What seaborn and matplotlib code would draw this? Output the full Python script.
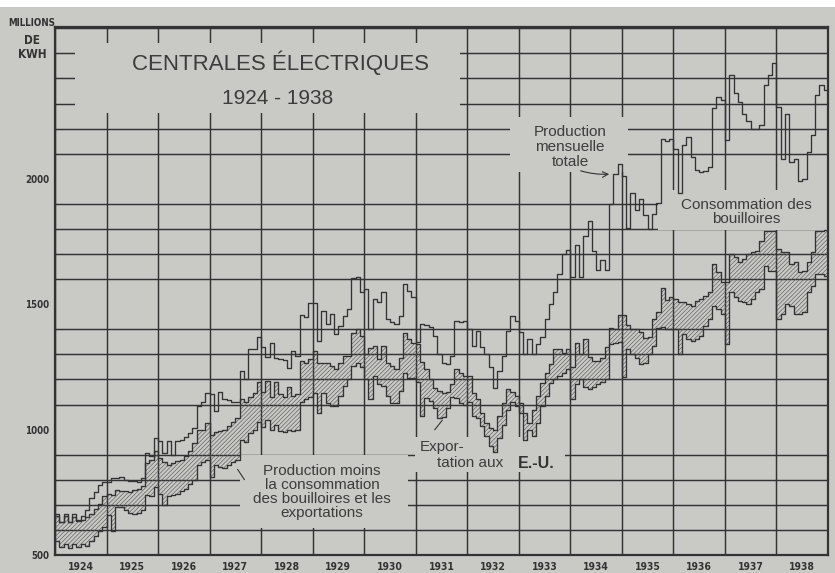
import numpy as np
import pandas as pd
import matplotlib.pyplot as plt
from matplotlib.patches import Rectangle
import seaborn as sns

years = list(range(1924, 1939))

# Production mensuelle totale (millions de kWh), 12 mois par année
total = [
    665, 632, 665, 633, 662, 640, 655, 680, 728, 752, 780, 790,          # 1924
    790, 805, 805, 812, 800, 795, 797, 793, 805, 905, 893, 965,          # 1925
    955, 905, 955, 900, 955, 960, 970, 985, 1005, 1095, 1110, 1145,      # 1926
    1143, 1073, 1150, 1120, 1118, 1110, 1108, 1233, 1200, 1320, 1322, 1370,  # 1927
    1330, 1290, 1347, 1287, 1282, 1278, 1247, 1313, 1295, 1455, 1450, 1505,  # 1928
    1505, 1353, 1473, 1420, 1460, 1380, 1413, 1453, 1480, 1603, 1610, 1547,  # 1929
    1560, 1400, 1520, 1507, 1547, 1440, 1430, 1420, 1453, 1580, 1553, 1527,  # 1930
    1350, 1420, 1415, 1410, 1373, 1300, 1267, 1262, 1293, 1433, 1427, 1433,  # 1931
    1400, 1333, 1393, 1330, 1300, 1250, 1165, 1233, 1293, 1395, 1453, 1433,  # 1932
    1390, 1300, 1360, 1300, 1340, 1370, 1440, 1500, 1550, 1620, 1700, 1715,  # 1933
    1610, 1737, 1610, 1770, 1830, 1710, 1637, 1677, 1637, 1900, 2020, 2060,  # 1934
    2010, 1805, 1943, 1875, 1920, 1855, 1800, 1860, 1905, 2160, 2150, 2160,  # 1935
    2120, 1945, 2135, 2165, 2087, 2035, 2027, 2030, 2047, 2283, 2327, 2313,  # 1936
    2155, 2415, 2340, 2307, 2260, 2230, 2200, 2200, 2215, 2373, 2413, 2460,  # 1937
    2287, 2080, 2260, 2067, 2080, 1990, 2000, 2107, 2173, 2333, 2373, 2353,  # 1938
]

# Production moins la consommation des bouilloires
net_boilers = [
    655, 630, 655, 630, 650, 635, 640, 650, 665, 685, 705, 735,
    745, 740, 760, 755, 755, 750, 760, 765, 775, 867, 880, 913,
    887, 870, 860, 865, 875, 880, 895, 913, 947, 1000, 1000, 1027,
    980, 990, 995, 1000, 1015, 1030, 1047, 1120, 1110, 1130, 1145, 1190,
    1150, 1195, 1130, 1190, 1140, 1130, 1170, 1135, 1140, 1275, 1265, 1280,
    1313, 1267, 1267, 1267, 1255, 1240, 1267, 1293, 1293, 1387, 1400, 1373,
    1300, 1327, 1333, 1280, 1333, 1267, 1253, 1240, 1287, 1387, 1360, 1347,
    1340, 1270, 1240, 1200, 1165, 1155, 1145, 1150, 1180, 1240, 1225, 1215,
    1213, 1147, 1120, 1067, 1027, 1007, 1000, 1053, 1107, 1160, 1150, 1133,
    1107, 1067, 1027, 1080, 1133, 1187, 1227, 1260, 1320, 1320, 1307, 1320,
    1250, 1345, 1300, 1360, 1290, 1275, 1275, 1285, 1330, 1405, 1400, 1455,
    1455, 1417, 1400, 1400, 1390, 1365, 1370, 1440, 1470, 1565, 1515, 1530,
    1520, 1510, 1507, 1500, 1493, 1513, 1520, 1533, 1547, 1660, 1627, 1587,
    1590, 1700, 1687, 1667, 1680, 1700, 1707, 1713, 1753, 1793, 1793, 1793,
    1720, 1707, 1707, 1660, 1667, 1627, 1633, 1667, 1707, 1793, 1793, 1795,
]

# Production moins la consommation des bouilloires et les exportations
net_all = [
    555, 530, 545, 528, 545, 530, 545, 535, 555, 575, 595, 610,
    660, 595, 690, 690, 680, 668, 665, 668, 680, 740, 735, 770,
    745, 700, 735, 740, 745, 755, 765, 785, 800, 860, 870, 880,
    810, 860, 850, 845, 860, 870, 880, 960, 950, 985, 1000, 1030,
    1010, 1040, 1000, 1020, 995, 990, 1000, 995, 1000, 1110, 1120, 1130,
    1147, 1067, 1147, 1107, 1093, 1093, 1133, 1173, 1200, 1253, 1267, 1250,
    1200, 1120, 1213, 1180, 1173, 1133, 1107, 1107, 1153, 1227, 1207, 1207,
    1190, 1055, 1125, 1115, 1085, 1045, 1050, 1085, 1130, 1125, 1105, 1100,
    1110, 1055, 1045, 1015, 975, 935, 910, 965, 1020, 1080, 1110, 1095,
    1067, 960, 1000, 973, 1027, 1093, 1133, 1187, 1200, 1213, 1227, 1240,
    1120, 1180, 1200, 1170, 1160, 1170, 1180, 1190, 1200, 1340, 1345, 1350,
    1210, 1320, 1300, 1285, 1260, 1265, 1300, 1335, 1405, 1410, 1400, 1400,
    1400, 1300, 1380, 1360, 1353, 1360, 1373, 1413, 1440, 1493, 1480, 1460,
    1340, 1547, 1530, 1513, 1507, 1500, 1520, 1547, 1560, 1653, 1633, 1633,
    1440, 1460, 1500, 1493, 1460, 1460, 1467, 1547, 1573, 1620, 1620, 1613,
]

BG = "#c9c9c6"
INK = "#333333"
TXT = "#3c3c3c"

sns.set_style("white", {"axes.facecolor": BG, "figure.facecolor": BG})
plt.rcParams["hatch.linewidth"] = 0.45

# month edges so that each value covers its month as a step
n = len(total)
edges = years[0] + np.arange(n + 1) / 12.0
df = pd.DataFrame({
    "x": edges,
    "total": total + total[-1:],
    "net_boilers": net_boilers + net_boilers[-1:],
    "net_all": net_all + net_all[-1:],
})

fig = plt.figure(figsize=(8.35, 5.73), dpi=100)
ax = fig.add_axes([55 / 835, 18 / 573, 773 / 835, 528 / 573])


def frac(px, py):
    # position measured on the original page -> axes fraction
    return (px - 55) / 773, (555 - py) / 528


# hatched band = exports to the U.S.
ax.fill_between(df["x"], df["net_all"], df["net_boilers"], step="post",
                facecolor="none", edgecolor="#5a5a5a", hatch="////////",
                linewidth=0, zorder=2)

for col in ["total", "net_boilers", "net_all"]:
    sns.lineplot(data=df, x="x", y=col, drawstyle="steps-post", estimator=None,
                 sort=False, color=INK, linewidth=0.95, ax=ax, zorder=3)

ax.set_xlim(years[0], years[-1] + 1)
ax.set_ylim(500, 2605)
ax.set_xticks([y + 0.5 for y in years])
ax.set_xticklabels([str(y) for y in years])
ax.set_xticks(range(years[0], years[-1] + 2), minor=True)
ax.set_yticks([500, 1000, 1500, 2000])
ax.set_yticks(range(500, 2601, 100), minor=True)
ax.grid(which="minor", color=INK, linewidth=1.05)
ax.grid(which="major", visible=False)
ax.set_axisbelow(True)
ax.tick_params(which="both", length=0)
ax.tick_params(axis="x", pad=5)
ax.tick_params(axis="y", pad=4)
for lab in ax.get_xticklabels() + ax.get_yticklabels():
    lab.set_family(["DejaVu Sans"])
    lab.set_fontstretch("condensed")
    lab.set_fontweight("bold")
    lab.set_color(INK)
for lab in ax.get_xticklabels():
    lab.set_fontsize(7.5)
for lab in ax.get_yticklabels():
    lab.set_fontsize(7)
ax.set_xlabel("")
ax.set_ylabel("")
for s in ax.spines.values():
    s.set_color(INK)
    s.set_linewidth(1.6)

# blank areas left behind the labels
blanks = [(75, 43, 460, 113), (510, 117, 628, 172), (658, 190, 832, 230),
          (240, 455, 408, 528), (415, 437, 565, 472)]
for x0, y0, x1, y1 in blanks:
    fx0, fy1 = frac(x0, y1)
    fx1, fy0 = frac(x1, y0)
    ax.add_patch(Rectangle((fx0, fy1), fx1 - fx0, fy0 - fy1, transform=ax.transAxes,
                           facecolor=BG, edgecolor="none", zorder=1.5))

sans = ["Liberation Sans", "DejaVu Sans"]
ax.text(*frac(280, 63), "CENTRALES ÉLECTRIQUES", transform=ax.transAxes,
        ha="center", va="center", fontsize=16, color=TXT, family=sans, zorder=4)
ax.text(*frac(278, 98), "1924 - 1938", transform=ax.transAxes,
        ha="center", va="center", fontsize=15, color=TXT, family=sans, zorder=4)

ax.text(*frac(570, 147), "Production\nmensuelle\ntotale", transform=ax.transAxes,
        ha="center", va="center", fontsize=11, color=TXT, family=sans,
        linespacing=1.05, zorder=4)
ax.annotate("", xy=frac(612, 174), xytext=frac(578, 170),
            xycoords="axes fraction", textcoords="axes fraction",
            arrowprops=dict(arrowstyle="->", color=INK, lw=0.8,
                            connectionstyle="arc3,rad=0.1"), zorder=4)

ax.text(*frac(746, 212), "Consommation des\nbouilloires", transform=ax.transAxes,
        ha="center", va="center", fontsize=11, color=TXT, family=sans,
        linespacing=1.05, zorder=4)

ax.text(*frac(322, 492), "Production moins\nla consommation\ndes bouilloires et les\nexportations",
        transform=ax.transAxes, ha="center", va="center", fontsize=11, color=TXT,
        family=sans, linespacing=1.0, zorder=4)
ax.annotate("", xy=frac(236, 467), xytext=frac(246, 482),
            xycoords="axes fraction", textcoords="axes fraction",
            arrowprops=dict(arrowstyle="-", color=INK, lw=0.8), zorder=4)

ax.text(*frac(420, 447), "Expor-", transform=ax.transAxes, ha="left", va="center",
        fontsize=11, color=TXT, family=sans, zorder=4)
ax.text(*frac(437, 463), "tation aux", transform=ax.transAxes, ha="left", va="center",
        fontsize=11, color=TXT, family=sans, zorder=4)
ax.text(*frac(518, 463), "E.-U.", transform=ax.transAxes, ha="left", va="center",
        fontsize=11.5, color=INK, family=sans, fontweight="bold", zorder=4)
ax.annotate("", xy=frac(444, 418), xytext=frac(433, 432),
            xycoords="axes fraction", textcoords="axes fraction",
            arrowprops=dict(arrowstyle="-", color=INK, lw=0.8), zorder=4)

fig.text(32 / 835, 1 - 23 / 573, "MILLIONS", ha="center", va="center", fontsize=7,
         fontweight="bold", family="DejaVu Sans", fontstretch="condensed", color=INK)
fig.text(32 / 835, 1 - 40 / 573, "DE", ha="center", va="center", fontsize=8.5,
         fontweight="bold", family="DejaVu Sans", fontstretch="condensed", color=INK)
fig.text(32 / 835, 1 - 55 / 573, "KWH", ha="center", va="center", fontsize=8.5,
         fontweight="bold", family="DejaVu Sans", fontstretch="condensed", color=INK)

fig.patches.append(Rectangle((0, 1 - 7 / 573), 1, 7 / 573, transform=fig.transFigure,
                             facecolor="white", edgecolor="none"))

fig.savefig("out.png", dpi=100, facecolor=BG)
